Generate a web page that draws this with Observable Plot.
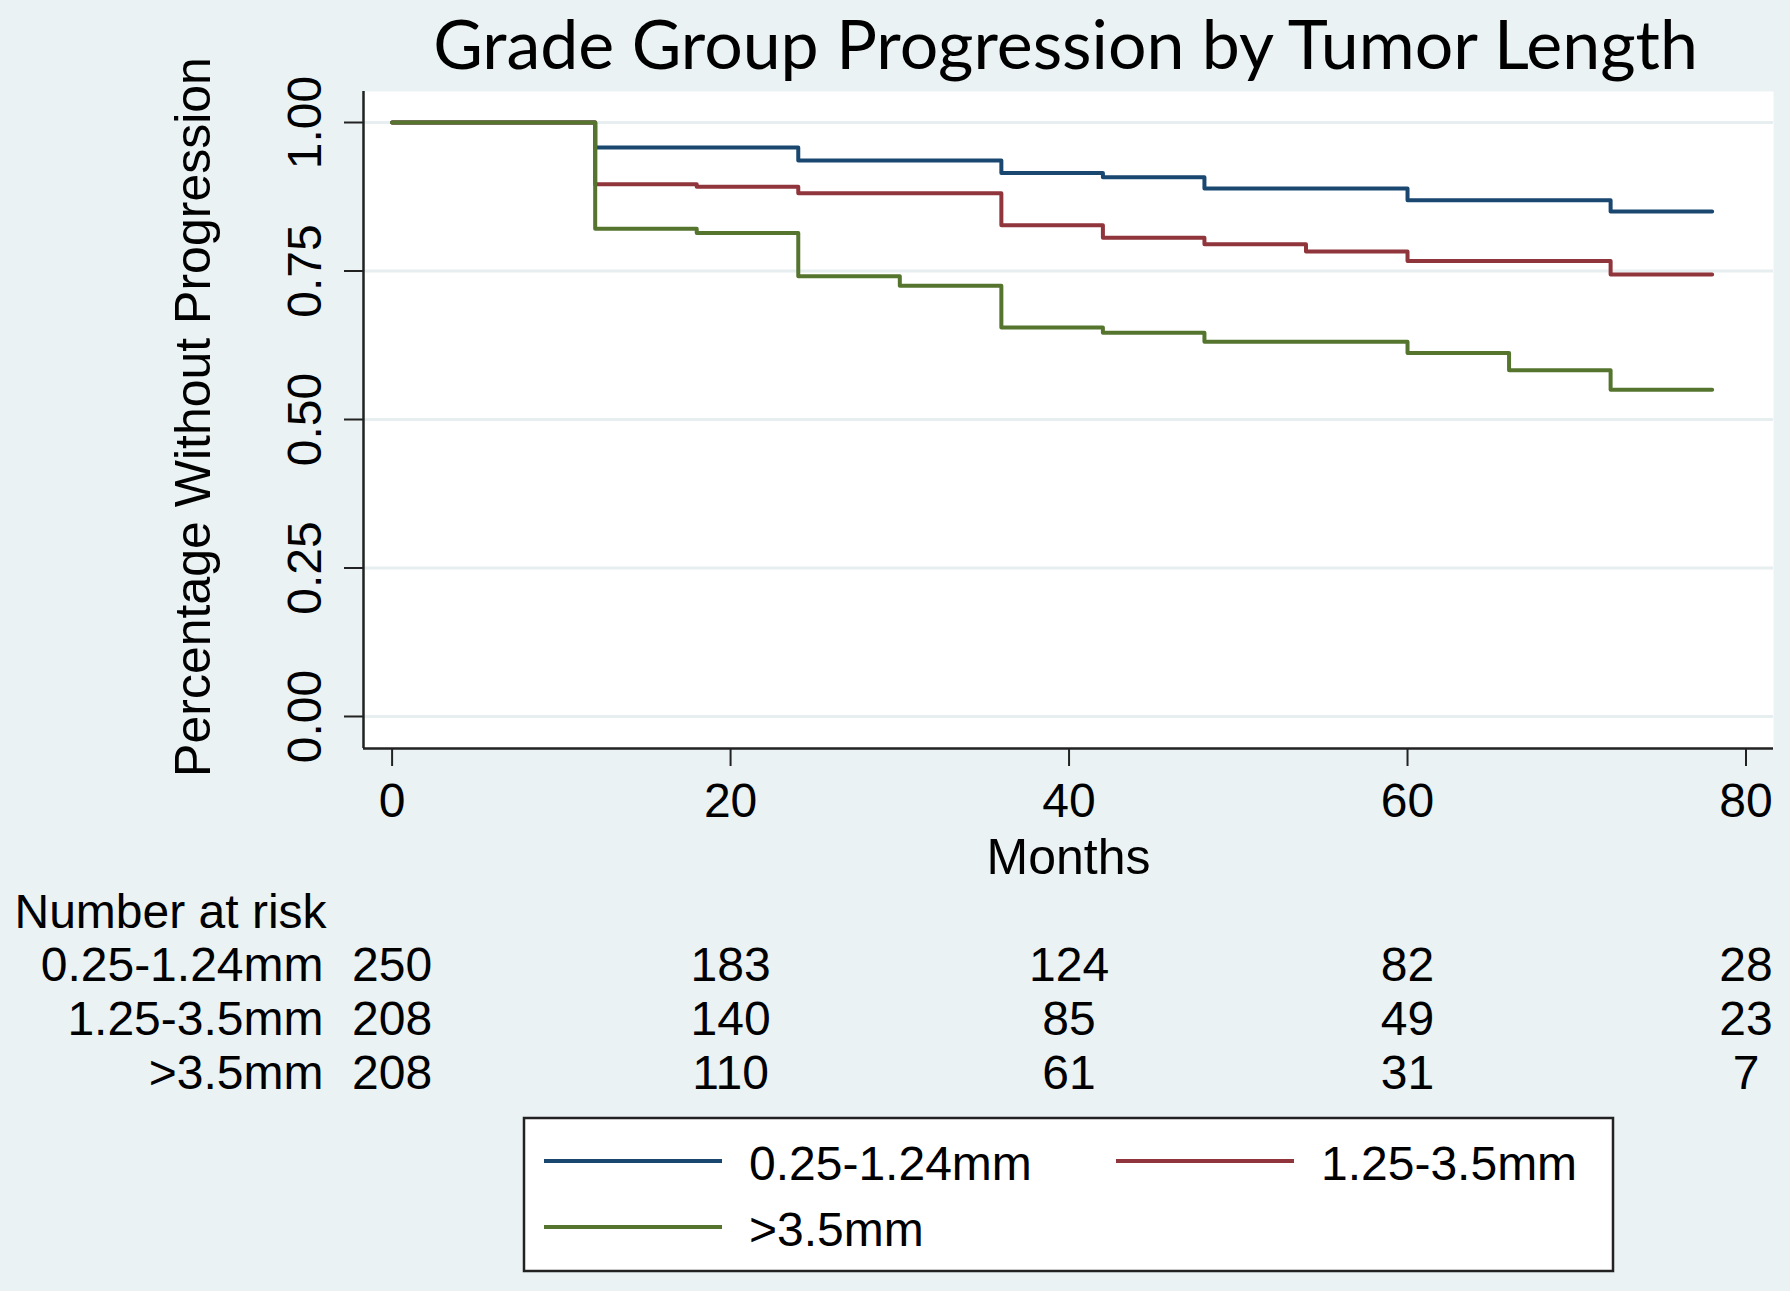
<!DOCTYPE html>
<html>
<head>
<meta charset="utf-8">
<script src="https://cdn.jsdelivr.net/npm/d3@7"></script>
<script src="https://cdn.jsdelivr.net/npm/@observablehq/plot@0.6"></script>
<style>
  html, body { margin: 0; padding: 0; background: #eaf2f3; }
  #wrap { position: relative; width: 1790px; height: 1291px; background: #eaf2f3; overflow: hidden; }
  #main { position: absolute; left: 0; top: 0; }
  #risk { position: absolute; left: 0; top: 890px; }
  #legend { position: absolute; left: 523px; top: 1117px; }
  svg { overflow: visible; }
</style>
</head>
<body>
<div id="wrap">
  <div id="main"></div>
  <div id="risk"></div>
  <div id="legend"></div>
</div>
<script>
// ---- Data ----
const groups = ["0.25-1.24mm", "1.25-3.5mm", ">3.5mm"];
const colors = ["#1a476f", "#90353b", "#55752f"];
const times = [0, 12, 18, 24, 30, 36, 42, 48, 54, 60, 66, 72, 78];
const survSmall = [1.000, 0.958, 0.958, 0.936, 0.936, 0.915, 0.908, 0.889, 0.889, 0.869, 0.869, 0.850, 0.850];
const survMid   = [1.000, 0.896, 0.892, 0.881, 0.881, 0.827, 0.806, 0.795, 0.783, 0.767, 0.767, 0.744, 0.744];
const survLarge = [1.000, 0.821, 0.814, 0.741, 0.725, 0.655, 0.646, 0.631, 0.631, 0.612, 0.583, 0.550, 0.550];
const xTicks = [0, 20, 40, 60, 80];
const yTicks = [0, 0.25, 0.5, 0.75, 1];
const xDomain = [-1.69, 81.625];   // plot region extends a little beyond 0..80
const yDomain = [-0.0539, 1.0522]; // plot region extends a little beyond 0..1
const riskTimes = [0, 20, 40, 60, 80];
const riskSmall = [250, 183, 124, 82, 28];
const riskMid   = [208, 140, 85, 49, 23];
const riskLarge = [208, 110, 61, 31, 7];
const title = "Grade Group Progression by Tumor Length";
const yLabel = "Percentage Without Progression";
const xLabel = "Months";
const riskTitle = "Number at risk";

// ---- Build tables ----
const survSeries = [survSmall, survMid, survLarge];
const km = [];
groups.forEach((g, i) => times.forEach((t, j) => km.push({group: g, time: t, surv: survSeries[i][j]})));
const riskSeries = [riskSmall, riskMid, riskLarge];
const risk = [];
groups.forEach((g, i) => riskTimes.forEach((t, j) => risk.push({group: g, time: t, n: riskSeries[i][j]})));

const font = "'Liberation Sans', Arial, sans-serif";
const axisColor = "#222";

const main = Plot.plot({
  width: 1790,
  height: 890,
  marginTop: 91,
  marginBottom: 142,
  marginLeft: 363,
  marginRight: 17,
  style: {fontFamily: font, background: "transparent", color: "#000"},
  x: {domain: xDomain},
  y: {domain: yDomain},
  color: {domain: groups, range: colors},
  marks: [
    Plot.frame({fill: "white", stroke: null}),
    Plot.gridY(yTicks, {stroke: "#e6eef0", strokeOpacity: 1, strokeWidth: 3}),
    Plot.line(km, {x: "time", y: "surv", stroke: "group", curve: "step-after", strokeWidth: 4}),
    Plot.ruleX([xDomain[0]], {stroke: axisColor, strokeWidth: 2.5}),
    Plot.ruleY([yDomain[0]], {stroke: axisColor, strokeWidth: 2.5}),
    Plot.axisX(xTicks, {tickSize: 18, tickPadding: 16, fontSize: 48, label: null, stroke: axisColor, strokeWidth: 2, fill: "#000"}),
    Plot.axisY(yTicks, {tickSize: 19, tickPadding: 24, tickRotate: -90, tickFormat: d3.format(".2f"), fontSize: 48, label: null, stroke: axisColor, strokeWidth: 2, fill: "#000"}),
    Plot.text([title], {frameAnchor: "top", dx: -3, dy: -23, lineAnchor: "bottom", fontSize: 68, fontFamily: "Lato, 'Open Sans', sans-serif", fill: "#000"}),
    Plot.text([yLabel], {frameAnchor: "left", dx: -154, dy: -3, rotate: -90, lineAnchor: "bottom", textAnchor: "middle", fontSize: 50, fill: "#000"}),
    Plot.text([xLabel], {frameAnchor: "bottom", dy: 125, lineAnchor: "bottom", textAnchor: "middle", fontSize: 50, fill: "#000"})
  ]
});
document.getElementById("main").appendChild(main);

const riskPlot = Plot.plot({
  width: 1790,
  height: 220,
  marginTop: 0,
  marginBottom: 0,
  marginLeft: 363,
  marginRight: 17,
  style: {fontFamily: font, background: "transparent", color: "#000"},
  x: {domain: xDomain, axis: null},
  y: {type: "point", domain: groups, range: [90, 198], padding: 0, axis: null},
  marks: [
    Plot.text([riskTitle], {frameAnchor: "top-left", dx: -349, dy: 37, textAnchor: "start", lineAnchor: "bottom", fontSize: 48, fill: "#000"}),
    Plot.text(groups, {y: d => d, text: d => d, frameAnchor: "left", dx: -40, textAnchor: "end", lineAnchor: "bottom", fontSize: 48, fill: "#000"}),
    Plot.text(risk, {x: "time", y: "group", text: "n", textAnchor: "middle", lineAnchor: "bottom", fontSize: 48, fill: "#000"})
  ]
});
document.getElementById("risk").appendChild(riskPlot);

// ---- Legend ----
const lw = 1091, lh = 155;
const leg = d3.create("svg").attr("width", lw).attr("height", lh)
  .style("font-family", font);
leg.append("rect").attr("x", 1).attr("y", 1).attr("width", lw - 2).attr("height", lh - 2)
  .attr("fill", "white").attr("stroke", "#222").attr("stroke-width", 2.5);
const legPos = [{x: 21, y: 44}, {x: 593, y: 44}, {x: 21, y: 110}];
groups.forEach((g, i) => {
  const p = legPos[i];
  leg.append("line").attr("x1", p.x).attr("x2", p.x + 178).attr("y1", p.y).attr("y2", p.y)
    .attr("stroke", colors[i]).attr("stroke-width", 4);
  leg.append("text").attr("x", p.x + 205).attr("y", p.y + 19).attr("font-size", 48)
    .attr("fill", "#000").text(g);
});
document.getElementById("legend").appendChild(leg.node());
</script>
</body>
</html>
